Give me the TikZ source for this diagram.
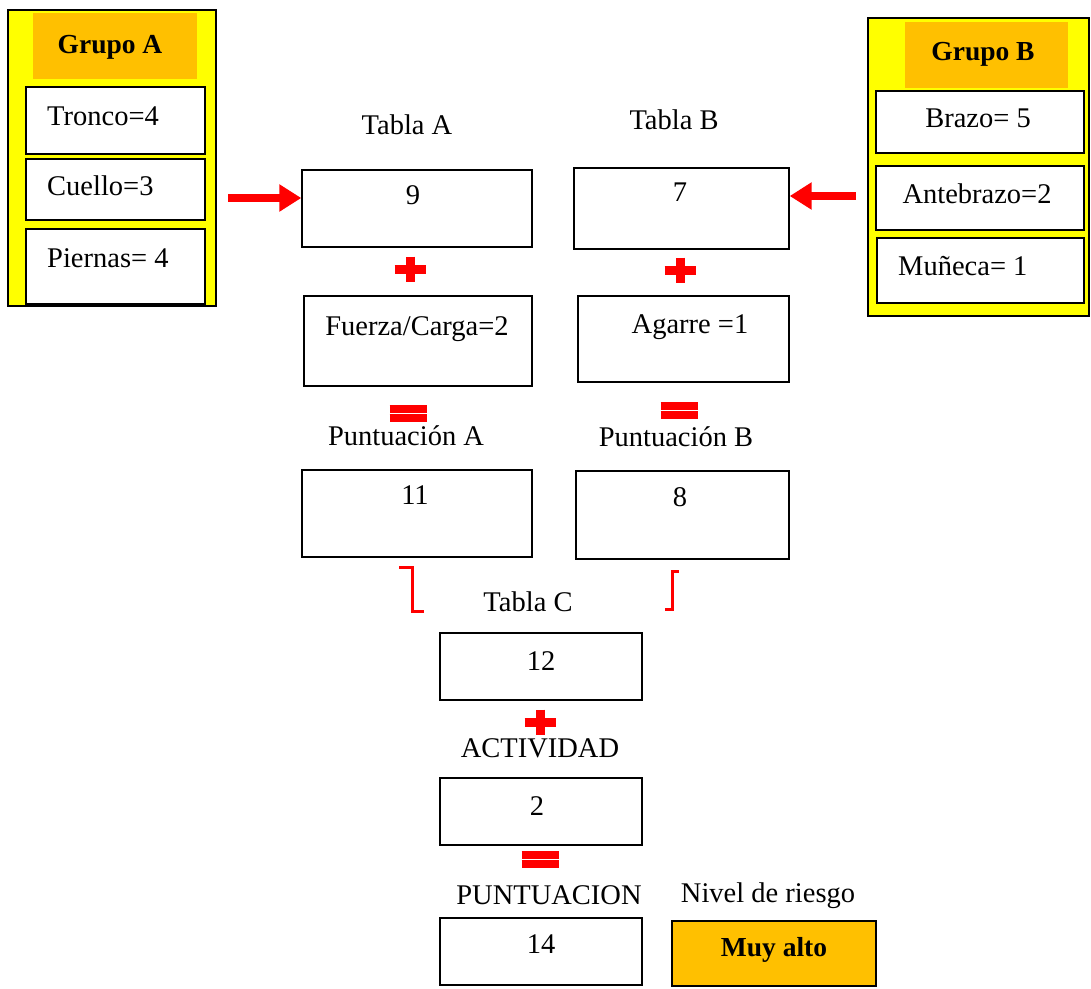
\documentclass[tikz,border=0pt]{standalone}
\usepackage{fontspec}
\setmainfont{Liberation Serif}
\usetikzlibrary{arrows.meta,calc}
\definecolor{ylw}{HTML}{FFFF00}
\definecolor{org}{HTML}{FFC000}
\definecolor{rd}{HTML}{FF0000}
\tikzset{
  box/.style={draw=black, line width=1.4pt, fill=white, inner sep=0pt, rectangle},
  grp/.style={draw=black, line width=1.4pt, fill=ylw, inner sep=0pt, rectangle},
  hdr/.style={draw=none, fill=org, inner sep=0pt, rectangle},
  txt/.style={font=\fontsize{28.5}{32}\selectfont, inner sep=0pt, anchor=base},
  txtl/.style={txt, anchor=base west},
  btxt/.style={txt, font=\fontsize{27.5}{32}\selectfont\bfseries},
  redarrow/.style={draw=rd, line width=8pt, -{Triangle[length=22pt,width=26pt]}},
  sym/.style={draw=rd, line width=9pt},
  eqs/.style={draw=rd, line width=8pt},
  brk/.style={draw=rd, line width=3pt},
  plussign/.pic={\draw[sym] (-15.5,0) -- (15.5,0) (0,-12.5) -- (0,12.5);},
  eqsign/.pic={\draw[eqs] (-18.5,-4.5) -- (18.5,-4.5) (-18.5,5) -- (18.5,5);},
}
\begin{document}
\begin{tikzpicture}[x=1pt,y=-1pt]
\useasboundingbox[fill=white] (0,0) rectangle (1091,988);
% Grupo A
\node[grp, minimum width=208pt, minimum height=296pt] (ga) at (112,158) {};
\node[hdr, minimum width=164pt, minimum height=66pt] (gah) at (115,46) {};
\node[box, minimum width=179pt, minimum height=67pt] (tr) at (115.5,120.5) {};
\node[box, minimum width=179pt, minimum height=61pt] (cu) at (115.5,189.5) {};
\node[box, minimum width=179pt, minimum height=75pt] (pi) at (115.5,266.5) {};
\node[btxt] (gat) at (110,53) {Grupo A};
\node[txtl] (trt) at (47,125) {Tronco=4};
\node[txtl] (cut) at (47,195) {Cuello=3};
\node[txtl] (pit) at (47,267) {Piernas= 4};
% Grupo B
\node[grp, minimum width=221pt, minimum height=298pt] (gb) at (978.5,167) {};
\node[hdr, minimum width=163pt, minimum height=66pt] (gbh) at (986.5,55) {};
\node[box, minimum width=208pt, minimum height=62pt] (br) at (980,122) {};
\node[box, minimum width=208pt, minimum height=64pt] (ab) at (980,198) {};
\node[box, minimum width=207pt, minimum height=65pt] (mu) at (980.5,270.5) {};
\node[btxt] (gbt) at (983,60) {Grupo B};
\node[txt] (brt) at (978,127) {Brazo= 5};
\node[txt] (abt) at (977,203) {Antebrazo=2};
\node[txtl] (mut) at (898,275) {Muñeca= 1};
% Tabla A / B
\node[txt] (ta) at (407,134) {Tabla A};
\node[txt] (tb) at (674,129) {Tabla B};
\node[box, minimum width=230pt, minimum height=77pt] (b9) at (417,208.5) {};
\node[box, minimum width=215pt, minimum height=81pt] (b7) at (681.5,208.5) {};
\node[txt] (t9) at (413,204) {9};
\node[txt] (t7) at (680,201) {7};
% arrows
\coordinate (aL) at (228,198);
\coordinate (aR) at (856,196);
\draw[redarrow] (aL) -- (b9.west |- aL);
\draw[redarrow] (aR) -- (b7.east |- aR);
% plus / equals signs
\pic at (410,269) {plussign};
\pic at (680,270) {plussign};
\pic at (540,722) {plussign};
\pic at (408,413) {eqsign};
\pic at (679,410) {eqsign};
\pic at (540,859) {eqsign};
% brackets
\draw[brk] (399,567) -- (412,567) -- (412,611) -- (424,611);
\draw[brk] (679,571) -- (672,571) -- (672,609) -- (665,609);
% Fuerza / Agarre
\node[box, minimum width=228pt, minimum height=90pt] (bf) at (418,341) {};
\node[box, minimum width=211pt, minimum height=86pt] (bg) at (683.5,339) {};
\node[txt] (tf) at (417,335) {Fuerza/Carga=2};
\node[txt] (tg) at (690,333) {Agarre =1};
% Puntuación
\node[txt] (pa) at (406,445) {Puntuación A};
\node[txt] (pb) at (676,446) {Puntuación B};
\node[box, minimum width=230pt, minimum height=87pt] (b11) at (417,513.5) {};
\node[box, minimum width=213pt, minimum height=88pt] (b8) at (682.5,515) {};
\node[txt] (t11) at (415,504) {11};
\node[txt] (t8) at (680,506) {8};
% Tabla C
\node[txt] (tc) at (528,611) {Tabla C};
\node[box, minimum width=202pt, minimum height=67pt] (b12) at (541,666.5) {};
\node[txt] (t12) at (541,670) {12};
\node[txt] (act) at (540,757) {ACTIVIDAD};
\node[box, minimum width=202pt, minimum height=67pt] (b2) at (541,811.5) {};
\node[txt] (t2) at (537,815) {2};
\node[txt] (pun) at (549,904) {PUNTUACION};
\node[txt] (niv) at (768,902) {Nivel de riesgo};
\node[box, minimum width=202pt, minimum height=67pt] (b14) at (541,951.5) {};
\node[txt] (t14) at (541,953) {14};
\node[box, fill=org, minimum width=204pt, minimum height=65pt] (bm) at (774,953.5) {};
\node[btxt] (tm) at (774,956) {Muy alto};
\end{tikzpicture}
\end{document}
